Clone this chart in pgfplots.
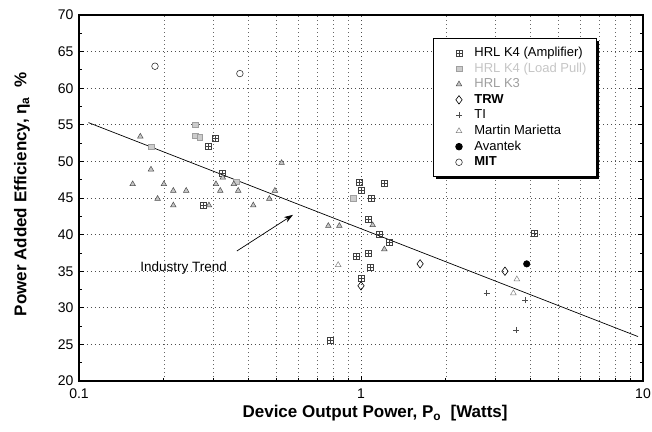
\documentclass[border=0pt]{standalone}
\usepackage{fontspec}
\setmainfont{Liberation Sans}
\usepackage{pgfplots}
\pgfplotsset{compat=1.18}
\usetikzlibrary{shadows,arrows.meta}

\pgfdeclareplotmark{boxplus}{%
  \pgfpathrectangle{\pgfpoint{-\pgfplotmarksize}{-\pgfplotmarksize}}{\pgfpoint{2\pgfplotmarksize}{2\pgfplotmarksize}}%
  \pgfpathmoveto{\pgfpoint{-\pgfplotmarksize}{0pt}}\pgfpathlineto{\pgfpoint{\pgfplotmarksize}{0pt}}%
  \pgfpathmoveto{\pgfpoint{0pt}{-\pgfplotmarksize}}\pgfpathlineto{\pgfpoint{0pt}{\pgfplotmarksize}}%
  \pgfusepathqstroke}

\begin{document}
\begin{tikzpicture}
\begin{axis}[
  scale only axis, width=564pt, height=366pt,
  xmode=log, xmin=0.1, xmax=10, ymin=20, ymax=70,
  xtick={0.1,1,10}, xticklabels={0.1,1,10},
  minor xtick={0.2,0.3,0.4,0.5,0.6,0.7,0.8,0.9,2,3,4,5,6,7,8,9},
  ytick={20,25,...,70}, minor ytick={22.5,27.5,...,67.5},
  xmajorgrids, xminorgrids, ymajorgrids,
  major grid style={dash pattern=on 1pt off 3pt, black!70, line width=0.7pt},
  minor grid style={dash pattern=on 1pt off 3pt, black!60, line width=0.7pt},
  tick align=inside, xtick pos=bottom,
  major tick length=5pt, minor tick length=3pt,
  tick style={black, line width=0.8pt},
  axis line style={line width=1.3pt},
  /pgf/number format/assume math mode=true,
  xticklabel style={font=\fontsize{14}{16}\selectfont, yshift=-4pt},
  yticklabel style={font=\fontsize{14}{16}\selectfont, xshift=-2pt},
  xlabel={\textbf{Device Output Power, P\textsubscript{o}~~[Watts]}},
  ylabel={\textbf{Power Added Efficiency, η\textsubscript{a}~~\%}},
  every axis x label/.style={at={(axis description cs:0.525,-0.0997)}, anchor=base, font=\fontsize{17}{19}\selectfont},
  every axis y label/.style={at={(axis description cs:-0.101,0.51)}, anchor=center, rotate=90, font=\fontsize{17}{19}\selectfont},
  legend style={at={(0.628,0.937)}, anchor=north west, draw=black, line width=0.8pt, fill=white,
    drop shadow={shadow xshift=2.5pt, shadow yshift=-2.5pt, fill=black, opacity=1},
    font=\fontsize{13}{15}\selectfont, inner xsep=9pt, inner ysep=7pt, row sep=0.4pt,
    nodes={inner sep=1pt, text height=10pt, text depth=3.2pt}},
  legend cell align=left,
  legend image code/.code={\path (0pt,0pt) (30pt,0pt);\draw[mark repeat=2,mark phase=2,#1] plot coordinates {(0pt,0pt)(16pt,0pt)(30pt,0pt)};},
]
% HRL K4 (Amplifier)
\addplot[only marks, mark=boxplus, mark size=3pt, black!75, line width=0.6pt] coordinates {
(0.304,53.1)(0.288,52)(0.321,48.4)(0.276,44)(0.986,47.1)(1.0,46.1)(1.21,47)(1.085,45)
(1.06,42.1)(1.16,40)(1.26,39)(0.96,37.1)(1.06,37.5)(1.076,35.5)(1.0,34)(0.776,25.5)(4.1,40.2)};
\addlegendentry{HRL K4 (Amplifier)}
% HRL K4 (Load Pull)
\addplot[only marks, mark=square*, mark size=2.8pt, draw=gray!75, fill=gray!40, line width=0.5pt] coordinates {
(0.258,55)(0.258,53.5)(0.268,53.3)(0.18,52)(0.362,47.2)(0.94,45)};
\addlegendentry{\textcolor{gray!45}{HRL K4 (Load Pull)}}
% HRL K3
\addplot[only marks, mark=triangle*, mark size=3.2pt, draw=black!70, fill=gray!45, line width=0.5pt] coordinates {
(0.165,53.4)(0.18,48.9)(0.155,46.9)(0.19,44.9)(0.20,46.9)(0.216,46)(0.216,44)(0.24,46)
(0.289,44)(0.306,46.9)(0.317,46)(0.3235,47.8)(0.354,46.9)(0.367,46)(0.415,44)(0.473,44.9)
(0.495,46)(0.523,49.8)(0.766,41.2)(0.838,41.2)(1.10,41.3)(1.21,38)};
\addlegendentry{\textcolor{gray!75}{HRL K3}}
% TRW
\addplot[only marks, mark=diamond, mark size=4.2pt, black, line width=0.6pt] coordinates {
(1.0,33)(1.62,36)(3.24,35)};
\addlegendentry{\textbf{TRW}}
% TI
\addplot[only marks, mark=+, mark size=3pt, black!70, line width=0.5pt] coordinates {
(2.79,32)(3.82,31)(3.55,27)};
\addlegendentry{TI}
% Martin Marietta
\addplot[only marks, mark=triangle, mark size=3.3pt, gray, line width=0.5pt] coordinates {
(0.83,35.85)(3.57,33.9)(3.47,32)};
\addlegendentry{Martin Marietta}
% Avantek
\addplot[only marks, mark=*, mark size=3.3pt, black] coordinates {(3.87,36)};
\addlegendentry{Avantek}
% MIT
\addplot[only marks, mark=o, mark size=3.3pt, black!80, line width=0.6pt] coordinates {
(0.186,63)(0.372,62)};
\addlegendentry{\textbf{MIT}}
% Industry trend
\addplot[black, line width=0.7pt, forget plot] coordinates {(0.108,55.3)(9.6,26.07)};
\node[anchor=east, font=\fontsize{13.5}{15}\selectfont, inner sep=0pt] at (axis cs:0.335,35.4) {Industry Trend};
\draw[-{Stealth[length=9pt,width=6pt]}, line width=0.7pt] (axis cs:0.363,37.76) -- (axis cs:0.574,42.7);
\end{axis}
\pgfresetboundingbox
\path (current axis.south west) ++(-79pt,-50pt) rectangle ++(652pt,431pt);
\end{tikzpicture}
\end{document}
